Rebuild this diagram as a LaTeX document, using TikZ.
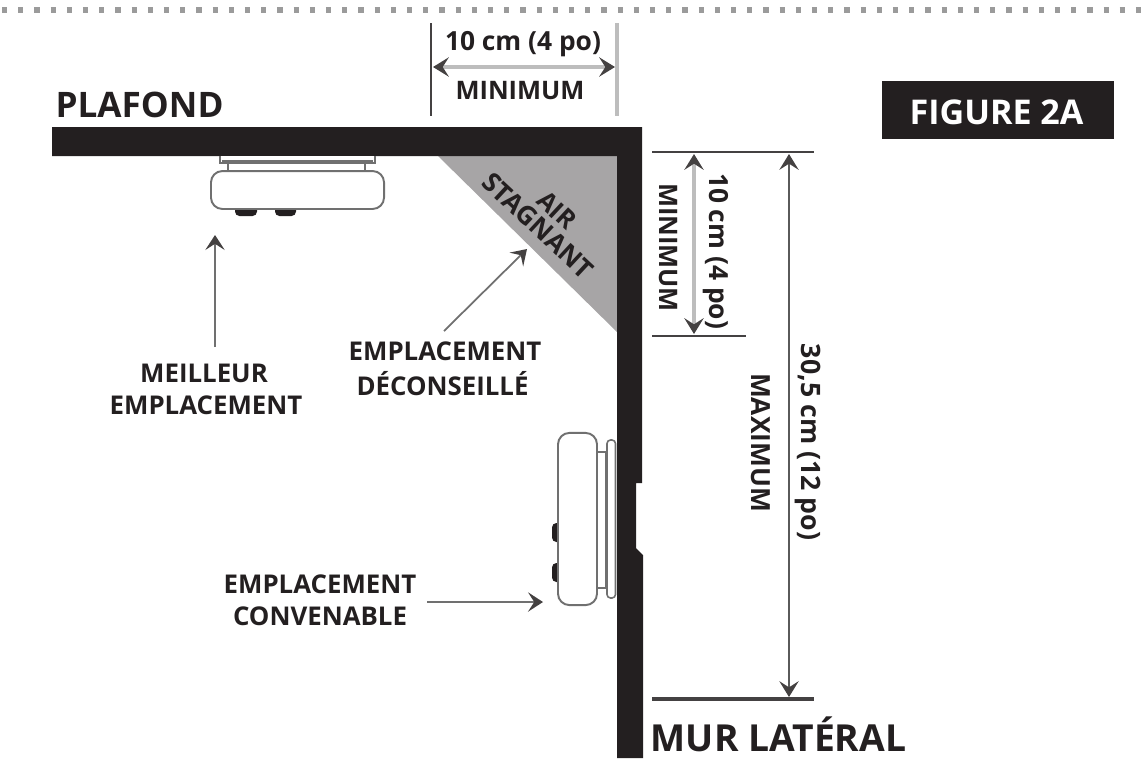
\documentclass[tikz,border=0pt]{standalone}
\usepackage{fontspec}
\setmainfont{Open Sans}
\usetikzlibrary{arrows.meta}
\definecolor{wallblack}{HTML}{231F20}
\definecolor{airgrey}{HTML}{A7A5A6}
\definecolor{dimgrey}{HTML}{BDBDBD}
\definecolor{edgegrey}{HTML}{707070}

\begin{document}
\begin{tikzpicture}[x=0.02cm, y=-0.02cm]
    \tikzstyle{big label}=[
        font = \fontsize{20}{24}\selectfont\bfseries,
        text = wallblack,
        inner sep = 0pt
    ]
    \tikzstyle{small label}=[
        font = \fontsize{14.7}{17}\selectfont\bfseries,
        text = wallblack,
        inner sep = 0pt
    ]
    \tikzstyle{dim label}=[
        font = \fontsize{14.5}{17}\selectfont\bfseries,
        text = wallblack,
        inner sep = 0pt
    ]
    \tikzstyle{dim size}=[
        font = \fontsize{15}{18}\selectfont\bfseries,
        text = wallblack,
        inner sep = 0pt
    ]
    \tikzstyle{body}=[
        draw = edgegrey,
        line width = 1.1pt,
        fill = white,
        rounded corners = 6.5pt
    ]
    \tikzstyle{plate}=[
        draw = edgegrey,
        line width = 0.9pt,
        fill = white
    ]
    \tikzstyle{foot}=[
        fill = wallblack,
        rounded corners = 2.5pt
    ]
    \tikzstyle{dim end}=[
        wallblack!85,
        line width = 1pt
    ]
    \tikzstyle{dim arrow}=[
        {Stealth[length=9pt, width=11pt, inset=3.5pt, wallblack!85]}-{Stealth[length=9pt, width=11pt, inset=3.5pt, wallblack!85]}
    ]
    \tikzstyle{note arrow}=[
        -{Stealth[length=8.5pt, width=11pt, inset=3.5pt, wallblack!85]},
        edgegrey,
        line width = 1pt
    ]

    \useasboundingbox (0, 0) rectangle (1143, 762);

    % dotted rule
    \coordinate (ruleL) at (2, 10);
    \coordinate (ruleR) at (1143, 10);
    \draw[edgegrey!70, line width=3pt, dash pattern=on 3pt off 6.22pt] (ruleL) -- (ruleR);

    % wall and ceiling
    \fill[airgrey] (438, 156) -- (617, 156) -- (617, 332) -- cycle;
    \fill[wallblack] (52, 127) -- (642, 127) -- (642, 483) -- (636, 483) -- (636, 548)
        -- (643, 555) -- (643, 758) -- (617, 758) -- (617, 156) -- (52, 156) -- cycle;

    % ceiling detector
    \draw[plate] (220, 156) -- (220, 163) -- (375, 163) -- (375, 156);
    \fill[edgegrey] (222, 159.5) rectangle (373, 163);
    \draw[plate] (228, 163) rectangle (365, 172);
    \fill[foot] (235, 203) rectangle (257, 216);
    \fill[foot] (275, 203) rectangle (296, 216);
    \node[body, minimum width=98.5pt, minimum height=21.6pt, inner sep=0pt] (ceilbody) at (297.5, 190) {};

    % wall detector
    \draw[plate, rounded corners=2pt] (607, 440) rectangle (615.5, 598);
    \draw[plate] (597, 452) rectangle (607, 588);
    \fill[edgegrey] (604.5, 452) rectangle (607.5, 588);
    \fill[foot] (552, 523) rectangle (564, 542);
    \fill[foot] (552, 563) rectangle (564, 582);
    \node[body, minimum width=22.2pt, minimum height=98pt, inner sep=0pt] (wallbody) at (577.5, 519) {};

    % dimensions, top
    \coordinate (topA1) at (431, 23);
    \coordinate (topA2) at (431, 116);
    \coordinate (topB1) at (617, 23);
    \coordinate (topB2) at (617, 116);
    \coordinate (topL) at (433, 67);
    \coordinate (topR) at (615, 67);
    \draw[dim end] (topA1) -- (topA2);
    \draw[dimgrey, line width=1.8pt] (topB1) -- (topB2);
    \draw[dim arrow, dimgrey, line width=2pt] (topL) -- (topR);
    \node[dim size] (topsize) at (523, 44) {10 cm (4 po)};
    \node[dim label] (topmin) at (520, 91) {MINIMUM};

    % dimensions, right
    \coordinate (rA1) at (652, 152);
    \coordinate (rA2) at (814, 152);
    \coordinate (rB1) at (652, 336);
    \coordinate (rB2) at (746, 336);
    \coordinate (rC1) at (652, 699);
    \coordinate (rC2) at (814, 699);
    \coordinate (inT) at (694, 154);
    \coordinate (inB) at (694, 334);
    \coordinate (outT) at (789, 154);
    \coordinate (outB) at (789, 697);
    \draw[dim end] (rA1) -- (rA2);
    \draw[dim end, line width=1.5pt] (rB1) -- (rB2);
    \draw[dim end, line width=2.4pt] (rC1) -- (rC2);
    \draw[dim arrow, dimgrey, line width=2pt] (inT) -- (inB);
    \draw[dim arrow, edgegrey!80!black, line width=1pt] (outT) -- (outB);
    \node[dim size, rotate=-90] (insize) at (716, 251) {10 cm (4 po)};
    \node[dim label, rotate=-90] (inmin) at (668, 247.5) {MINIMUM};
    \node[dim size, font=\fontsize{15.2}{18}\selectfont\bfseries, rotate=-90] (outsize) at (808, 442) {30,5 cm (12 po)};
    \node[dim size, rotate=-90] (outmax) at (761, 442.5) {MAXIMUM};

    % air
    \node[dim label, rotate=-43] (air) at (557, 210) {AIR};
    \node[dim size, rotate=-43] (stagnant) at (538, 226) {STAGNANT};

    % labels
    \node[big label] (plafond) at (139.5, 105) {PLAFOND};
    \node[big label, font=\fontsize{21.2}{25}\selectfont\bfseries] (mur) at (778.5, 734.5) {MUR LATÉRAL};
    \node[fill=wallblack, minimum width=132pt, minimum height=33pt, inner sep=0pt] (figbox) at (998, 110) {};
    \node[big label, text=white, font=\fontsize{19.4}{23}\selectfont\bfseries] (figlabel) at (996.5, 112.5) {FIGURE 2A};

    \node[small label] (bestA) at (204, 373) {MEILLEUR};
    \node[small label] (bestB) at (206, 405) {EMPLACEMENT};
    \node[small label] (badA) at (445, 351) {EMPLACEMENT};
    \node[small label] (badB) at (442.5, 384) {DÉCONSEILLÉ};
    \node[small label] (okA) at (320, 584) {EMPLACEMENT};
    \node[small label] (okB) at (320, 616) {CONVENABLE};

    % pointers
    \coordinate (bestS) at (215, 347);
    \coordinate (bestE) at (215, 235);
    \coordinate (badS) at (444, 331);
    \coordinate (badE) at (527, 249);
    \coordinate (okS) at (427, 602);
    \coordinate (okE) at (543, 602);
    \draw[note arrow] (bestS) -- (bestE);
    \draw[note arrow] (badS) -- (badE);
    \draw[note arrow] (okS) -- (okE);

\end{tikzpicture}
\end{document}
